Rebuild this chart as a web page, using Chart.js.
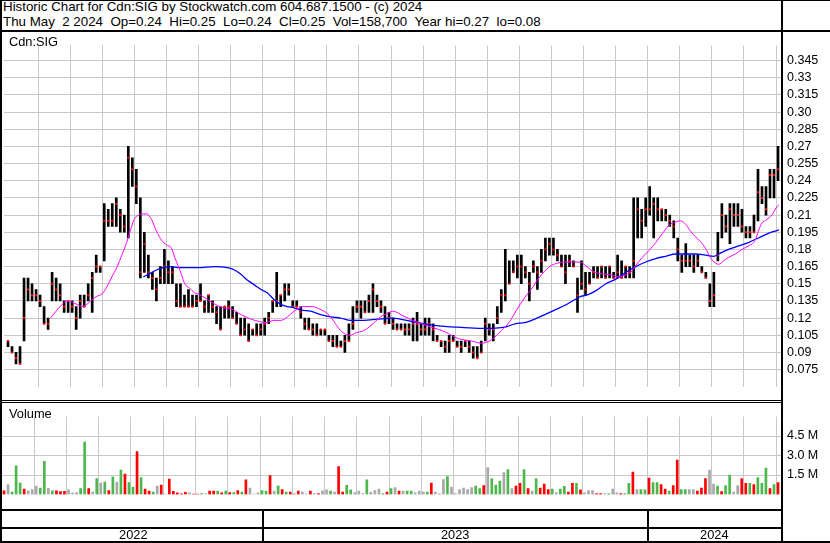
<!DOCTYPE html>
<html>
<head>
<meta charset="utf-8">
<script src="https://cdn.jsdelivr.net/npm/chart.js@4.4.1/dist/chart.umd.min.js"></script>
<style>
  body { margin: 0; background: #fff; }
  #page { position: relative; width: 830px; height: 543px; overflow: hidden; background: #fff;
          font-family: "Liberation Sans", Arial, sans-serif; font-size: 12.8px; color: #000; }
  .txt { position: absolute; white-space: pre; line-height: 14px; }
  .head { font-size: 13.33px; }
  .ln { position: absolute; background: #000; }
  canvas { position: absolute; left: 0; }
</style>
</head>
<body>
<div id="page">
  <div class="txt head" style="left:3px;top:0px">Historic Chart for Cdn:SIG by Stockwatch.com 604.687.1500 - (c) 2024</div>
  <div class="txt head" style="left:3px;top:15px">Thu May  2 2024  Op=0.24  Hi=0.25  Lo=0.24  Cl=0.25  Vol=158,700  Year hi=0.27  lo=0.08</div>
  <canvas id="price" width="830" height="368" style="top:32px"></canvas>
  <canvas id="volume" width="830" height="105" style="top:403px"></canvas>
  <div class="txt" style="left:9px;top:35px">Cdn:SIG</div>
  <div class="txt" style="left:9px;top:407px">Volume</div>

  <div class="ln" style="left:0;top:0;width:830px;height:1px"></div>
  <div class="ln" style="left:0;top:0;width:2px;height:543px"></div>
  <div class="ln" style="left:0;top:30px;width:830px;height:2px"></div>
  <div class="ln" style="left:0;top:400px;width:783px;height:1px"></div>
  <div class="ln" style="left:0;top:402px;width:783px;height:1px"></div>
  <div class="ln" style="left:0;top:509px;width:783px;height:2px"></div>
  <div class="ln" style="left:0;top:527px;width:783px;height:2px"></div>
  <div class="ln" style="left:0;top:541px;width:830px;height:2px"></div>
  <div class="ln" style="left:781px;top:0;width:2px;height:543px"></div>
</div>

<script>
// x positions are months counted from Jan 2022 (May 2022 = 4); 8 bars per month
const firstMonth = 4;
const barsPerMonth = 8;
const gridMonths = [5,6,7,8,9,10,11,12,13,14,15,16,17,18,19,20,21,22,23,24,25,26,27,28];
const years = ['2022', '2023', '2024'];
const yearStarts = [0, 12, 24];

const priceLabels = ['0.075','0.09','0.105','0.12','0.135','0.15','0.165','0.18','0.195','0.21',
                     '0.225','0.24','0.255','0.27','0.285','0.30','0.315','0.33','0.345'];
const volTicks = [1.5, 3.0, 4.5];
const volLabels = ['1.5 M', '3.0 M', '4.5 M'];

const hi = [
  .100,.095,.090,.095,.155,.155,.150,.145,
  .140,.130,.120,.160,.155,.150,.135,.135,
  .135,.130,.140,.140,.150,.160,.175,.165,
  .220,.215,.220,.225,.215,.210,.270,.260,
  .250,.225,.195,.175,.160,.155,.165,.180,
  .170,.165,.150,.150,.140,.145,.140,.140,
  .150,.135,.140,.135,.130,.130,.130,.135,
  .130,.125,.120,.120,.115,.110,.115,.115,
  .120,.125,.135,.160,.140,.150,.150,.135,
  .135,.130,.120,.120,.115,.115,.110,.110,
  .105,.105,.105,.100,.105,.115,.130,.135,
  .135,.135,.140,.150,.140,.135,.130,.125,
  .120,.115,.115,.115,.115,.120,.125,.115,
  .120,.120,.115,.105,.100,.100,.105,.105,
  .100,.100,.100,.100,.095,.095,.100,.120,
  .115,.115,.130,.145,.180,.170,.170,.175,
  .175,.165,.160,.170,.165,.180,.190,.190,
  .190,.180,.175,.175,.175,.170,.155,.170,
  .160,.160,.165,.165,.165,.165,.165,.160,
  .175,.170,.165,.165,.225,.225,.215,.225,
  .235,.225,.225,.215,.215,.210,.205,.190,
  .175,.185,.175,.175,.175,.165,.160,.150,
  .160,.195,.220,.210,.220,.220,.220,.215,
  .200,.200,.210,.250,.235,.235,.250,.250,
  .270
];
const lo = [
  .095,.090,.080,.080,.100,.135,.135,.135,
  .130,.115,.110,.135,.135,.135,.125,.125,
  .125,.110,.120,.130,.135,.125,.160,.160,
  .170,.200,.200,.200,.195,.195,.190,.235,
  .220,.155,.160,.155,.145,.135,.150,.150,
  .150,.150,.130,.130,.130,.130,.130,.130,
  .135,.125,.125,.125,.115,.110,.120,.120,
  .120,.115,.105,.105,.100,.105,.105,.105,
  .105,.115,.125,.130,.130,.135,.140,.130,
  .130,.120,.110,.110,.105,.105,.105,.105,
  .100,.095,.095,.095,.090,.100,.110,.125,
  .120,.125,.125,.125,.130,.125,.115,.115,
  .110,.110,.110,.105,.105,.100,.100,.105,
  .105,.105,.100,.100,.095,.090,.090,.100,
  .095,.090,.095,.090,.085,.085,.090,.100,
  .105,.100,.115,.125,.135,.150,.160,.155,
  .150,.155,.135,.160,.145,.160,.170,.175,
  .175,.170,.165,.150,.165,.165,.125,.145,
  .140,.150,.155,.155,.155,.155,.155,.155,
  .155,.155,.155,.155,.155,.190,.190,.200,
  .210,.190,.205,.205,.205,.200,.190,.170,
  .160,.165,.165,.160,.165,.160,.155,.130,
  .130,.170,.190,.195,.185,.200,.200,.195,
  .190,.190,.195,.205,.220,.210,.225,.225,
  .240
];
const cl = [
  .100,.090,.085,.080,.120,.145,.140,.140,
  .135,.115,.115,.150,.145,.140,.130,.135,
  .130,.120,.135,.130,.140,.155,.165,.165,
  .205,.205,.205,.220,.210,.200,.260,.250,
  .235,.160,.185,.160,.155,.145,.155,.165,
  .160,.160,.135,.130,.130,.130,.130,.135,
  .135,.130,.140,.130,.125,.110,.130,.130,
  .120,.115,.105,.110,.100,.110,.105,.110,
  .115,.120,.135,.135,.140,.145,.145,.130,
  .130,.125,.115,.110,.110,.105,.110,.110,
  .100,.100,.095,.095,.100,.100,.115,.130,
  .130,.125,.135,.145,.135,.130,.115,.120,
  .115,.110,.110,.110,.110,.115,.115,.110,
  .110,.115,.110,.100,.100,.095,.100,.100,
  .095,.095,.100,.095,.090,.085,.090,.115,
  .110,.110,.120,.140,.140,.150,.160,.165,
  .165,.160,.150,.165,.160,.170,.180,.185,
  .180,.175,.165,.160,.170,.165,.140,.150,
  .145,.150,.160,.155,.165,.155,.165,.155,
  .160,.155,.165,.160,.170,.215,.205,.215,
  .215,.220,.215,.215,.210,.205,.200,.180,
  .170,.170,.170,.165,.170,.160,.155,.135,
  .140,.175,.210,.200,.215,.210,.210,.200,
  .195,.195,.195,.230,.225,.215,.245,.245,
  .250
];

// volume in millions, direction: 1 up, -1 down, 0 unchanged
const vol = [
  0.29,0.77,0.19,2.21,0.87,0.42,0.29,0.38,
  0.65,0.50,2.56,0.48,0.29,0.29,0.23,0.25,
  0.35,0.10,0.15,0.46,4.04,0.46,0.19,1.23,
  0.88,0.96,0.31,1.35,0.96,1.87,1.58,0.92,
  0.58,3.31,1.31,0.42,0.27,0.19,0.65,0.73,
  0.04,1.19,0.25,0.12,0.06,0.17,0.13,0.04,
  0.04,0.08,0.06,0.27,0.27,0.27,0.12,0.27,
  0.15,0.15,0.31,0.19,1.12,0.50,0.03,0.12,
  0.31,0.27,1.46,0.27,0.65,0.38,0.19,0.19,
  0.08,0.27,0.19,0.03,0.27,0.08,0.08,0.29,
  0.35,0.27,0.19,2.15,0.19,0.71,0.35,0.15,
  0.27,0.08,1.12,0.19,0.31,0.42,0.08,0.19,
  0.46,0.54,0.27,0.27,0.27,0.27,0.12,0.27,
  0.19,0.19,0.88,0.19,0.08,1.15,1.38,0.58,
  0.08,0.38,0.50,0.38,0.54,0.65,0.46,0.69,
  2.08,1.23,0.73,1.04,1.69,1.92,0.46,0.65,
  0.85,1.92,0.46,0.27,1.23,0.50,0.81,0.38,
  0.42,0.15,0.42,0.62,0.19,0.85,0.85,0.35,
  0.12,0.31,0.31,0.08,0.08,0.08,0.08,0.42,
  0.12,0.08,0.08,0.85,1.73,0.38,0.38,0.35,
  1.27,0.92,0.92,0.77,0.42,0.27,0.69,2.65,
  0.38,0.38,0.38,0.38,0.27,0.50,1.23,1.88,
  0.81,0.65,0.23,0.69,1.50,0.19,0.69,1.23,
  0.85,0.85,0.77,1.31,0.85,2.04,0.46,0.77,
  0.92
];
const dir = [
  -1,0,1,1,1,-1,0,0,   0,1,1,0,1,-1,-1,-1,   0,0,0,1,1,-1,0,1,   0,1,-1,1,0,1,-1,1,
  1,-1,1,-1,-1,1,0,-1, 0,-1,-1,-1,-1,-1,0,-1, -1,1,0,-1,-1,1,-1,1, -1,1,-1,1,-1,0,0,0,
  1,1,-1,0,1,-1,1,-1,  0,-1,0,0,-1,0,-1,0,   0,1,0,-1,-1,1,1,0,   0,0,1,0,0,0,1,-1,
  1,0,-1,0,1,1,0,0,    0,1,-1,0,0,0,1,0,     0,0,0,0,0,1,1,-1,    0,1,1,1,0,1,0,-1,
  -1,1,-1,0,1,-1,-1,-1, 1,0,1,1,-1,-1,1,-1,  0,0,0,-1,-1,0,1,0,   0,-1,1,1,-1,0,1,1,
  -1,1,1,-1,-1,1,-1,-1, 1,1,0,0,-1,-1,-1,0,  0,1,-1,1,1,0,0,-1,   -1,1,-1,1,1,1,-1,1,
  -1
];

// moving averages (month, price)
const maShortM = [5.39,5.59,5.75,5.90,6.06,6.21,6.37,6.52,6.68,6.83,6.99,7.14,7.30,7.45,7.61,7.76,
  7.87,7.99,8.12,8.28,8.38,8.54,8.69,8.85,9.00,9.16,9.26,9.36,9.47,9.57,9.73,9.88,
  10.00,10.40,10.76,11.02,11.33,11.64,11.90,12.10,12.36,12.57,12.77,12.98,13.14,13.24,13.55,
  13.76,13.91,14.12,14.27,14.43,14.58,14.74,14.89,15.15,15.31,15.51,15.67,15.88,16.05,
  16.44,16.86,17.27,17.68,18.10,18.51,18.82,19.13,19.44,19.70,19.91,20.17,20.42,20.58,20.79,
  21.00,21.20,21.41,21.61,21.82,21.97,22.10,
  22.28,22.49,22.80,23.11,23.32,23.47,23.63,23.83,24.04,24.25,24.46,24.66,24.87,25.02,25.18,
  25.33,25.49,25.64,25.80,25.95,26.11,26.21,26.37,26.52,26.73,26.94,27.14,27.35,27.45,27.56,
  27.71,27.87,28.02,28.09];
const maShortV = [.120,.127,.132,.135,.134,.132,.130,.132,.136,.139,.141,.147,.156,.164,.175,.186,
  .196,.206,.210,.211,.211,.206,.196,.188,.184,.181,.173,.166,.158,.150,.146,.142,
  .141,.134,.129,.128,.123,.119,.117,.116,.118,.118,.121,.126,.129,.130,.130,
  .128,.126,.121,.115,.109,.106,.105,.107,.109,.112,.117,.121,.124,.126,
  .121,.116,.112,.108,.102,.100,.098,.101,.109,.117,.127,.138,.147,.154,.161,
  .166,.168,.169,.169,.169,.168,.165,
  .161,.159,.158,.156,.158,.160,.166,.173,.179,.186,.194,.201,.204,.205,.202,
  .196,.191,.187,.181,.173,.168,.167,.170,.173,.176,.180,.183,.188,.196,.203,
  .206,.210,.217,.219];
const maLongM = [8.28,8.49,8.69,8.90,9.11,9.42,10.00,10.50,10.91,11.12,11.33,11.53,11.74,11.95,12.15,
  12.36,12.57,12.77,12.98,13.19,13.50,13.81,14.12,14.43,14.74,15.15,15.57,16.05,16.65,17.06,
  17.58,18.10,18.82,19.13,19.55,19.86,20.17,20.48,20.79,21.10,21.41,21.72,21.92,22.10,22.39,
  22.70,23.01,23.32,23.63,23.94,24.25,24.56,24.87,25.18,25.49,25.80,26.06,26.21,26.52,26.83,
  27.14,27.45,27.76,27.97,28.09];
const maLongV = [.156,.159,.162,.164,.165,.164,.164,.165,.164,.162,.158,.153,.149,.145,.142,
  .136,.132,.130,.129,.127,.126,.123,.121,.120,.118,.118,.119,.120,.117,.115,
  .113,.112,.111,.111,.112,.115,.116,.119,.123,.127,.131,.136,.139,.140,.144,
  .150,.154,.160,.165,.169,.172,.174,.176,.176,.176,.175,.174,.176,.180,.183,
  .186,.190,.194,.196,.197];

Chart.defaults.font.family = '"Liberation Sans", Arial, sans-serif';
Chart.defaults.font.size = 12.5;
Chart.defaults.color = '#000';

const xMin = 3.938, xMax = 28.155;
const gridColor = '#c8c8c8';
const xs = hi.map((_, i) => firstMonth + (i + 0.5) / barsPerMonth);

function xScale() {
  return {
    type: 'linear', min: xMin, max: xMax, offset: false,
    afterBuildTicks: s => { s.ticks = gridMonths.map(v => ({ value: v })); },
    ticks: { display: false },
    grid: { color: gridColor, drawTicks: false, offset: false },
    border: { display: false },
    afterFit: s => { s.height = 0; }
  };
}

const common = {
  responsive: false, animation: false, events: [],
  layout: { padding: 0 },
  plugins: { legend: { display: false }, tooltip: { enabled: false } }
};

const priceChart = new Chart(document.getElementById('price'), {
  type: 'scatter',
  data: {
    datasets: [
      { type: 'line', data: maShortM.map((m, i) => ({ x: m, y: maShortV[i] })),
        borderColor: '#ff00ff', borderWidth: 1, pointRadius: 0, cubicInterpolationMode: 'monotone', order: 0 },
      { type: 'line', data: maLongM.map((m, i) => ({ x: m, y: maLongV[i] })),
        borderColor: '#0000ff', borderWidth: 1.3, pointRadius: 0, cubicInterpolationMode: 'monotone', order: 0 },
      { type: 'scatter', data: xs.map((x, i) => ({ x, y: cl[i] })),
        pointStyle: 'rect', pointRadius: 1.42, backgroundColor: '#ff0000', borderWidth: 0, order: 1 },
      { type: 'bar', data: xs.map((x, i) => ({ x, y: [lo[i], hi[i]] })),
        backgroundColor: '#000', borderWidth: 0, barThickness: 2, order: 2 }
    ]
  },
  options: {
    ...common,
    scales: {
      x: xScale(),
      y: {
        position: 'right', min: 0.0602, max: 0.3582,
        afterBuildTicks: s => { s.ticks = priceLabels.map(l => ({ value: parseFloat(l) })); },
        ticks: { autoSkip: false, padding: 6, callback: (v, i) => priceLabels[i] },
        grid: { color: gridColor, drawTicks: false },
        border: { display: false },
        afterFit: s => { s.width = 49; }
      }
    }
  }
});

const volColors = dir.map(d => d > 0 ? '#4cb84c' : d < 0 ? '#ff0000' : '#a8a8a8');
new Chart(document.getElementById('volume'), {
  type: 'scatter',
  data: {
    datasets: [
      { type: 'bar', data: xs.map((x, i) => ({ x, y: vol[i] })),
        backgroundColor: volColors, borderWidth: 0, barThickness: 2 }
    ]
  },
  options: {
    ...common,
    scales: {
      x: xScale(),
      y: {
        position: 'right', min: 0, max: 6.0,
        afterBuildTicks: s => { s.ticks = volTicks.map(v => ({ value: v })); },
        ticks: { autoSkip: false, padding: 6, callback: (v, i) => volLabels[i] },
        grid: { color: gridColor, drawTicks: false },
        border: { display: false },
        afterFit: s => { s.width = 49; }
      }
    }
  }
});

// year row: separators and centred labels from the price chart's x scale
const page = document.getElementById('page');
const sx = priceChart.scales.x;
years.forEach((y, k) => {
  const a = Math.max(xMin, yearStarts[k]);
  const b = Math.min(xMax, yearStarts[k] + 12);
  const pa = sx.getPixelForValue(a), pb = sx.getPixelForValue(b);
  if (k > 0) {
    const sep = document.createElement('div');
    sep.className = 'ln';
    sep.style.cssText = `left:${Math.round(pa) - 1}px;top:510px;width:2px;height:32px`;
    page.appendChild(sep);
  }
  const t = document.createElement('div');
  t.className = 'txt';
  t.textContent = y;
  t.style.cssText = `left:${(pa + pb) / 2 - 20}px;width:40px;text-align:center;top:528px`;
  page.appendChild(t);
});
</script>
</body>
</html>
